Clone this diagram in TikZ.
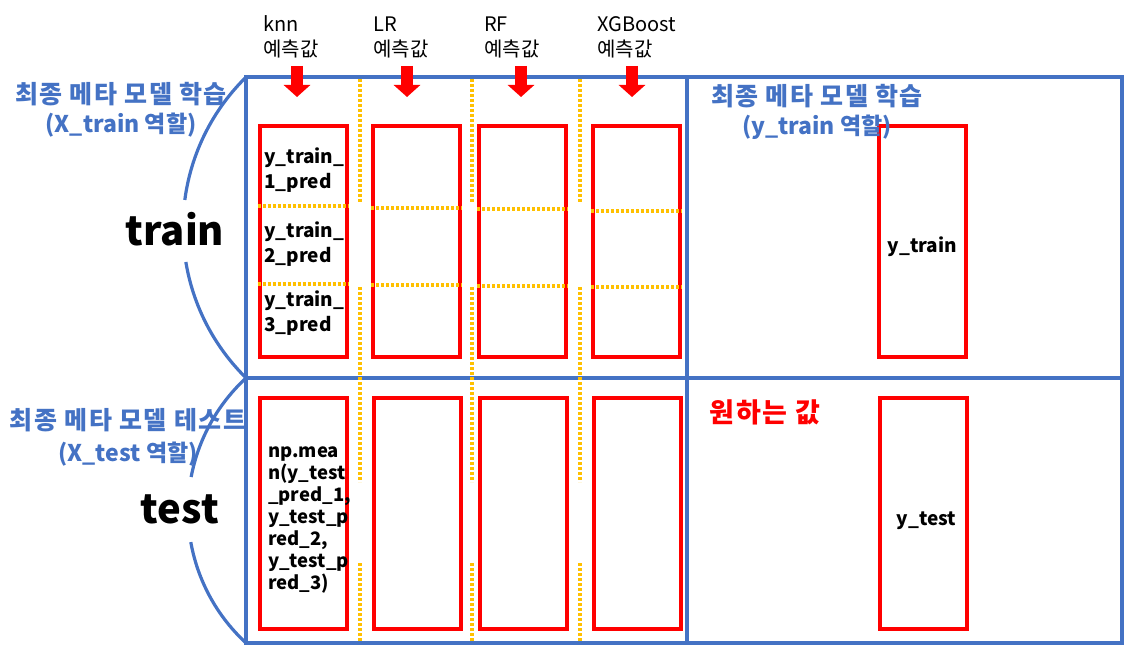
\documentclass[tikz,border=0pt]{standalone}
\usepackage{fontspec}
\setmainfont{Noto Sans CJK KR}
\usetikzlibrary{arrows.meta, positioning}
\definecolor{roleblue}{HTML}{4472C4}
\definecolor{dotorange}{HTML}{FFC000}
\newcommand{\wideko}[2]{{\fontsize{#1}{29}\selectfont\addfontfeature{LetterSpace=6}#2}}

\begin{document}
\begin{tikzpicture}[x=1pt, y=-1pt,
    predbox/.style={draw=red, line width=4pt, minimum width=87pt, minimum height=231pt, inner sep=0pt},
    sepline/.style={dotorange, line width=3.5pt, dash pattern=on 3pt off 2pt},
    downarrow/.style={red, line width=12pt, -{Triangle[width=26pt, length=12pt]}},
    hdr/.style={align=left, anchor=west, inner sep=1pt, font=\fontsize{20}{25}\selectfont},
    role/.style={roleblue, align=center, font=\bfseries\fontsize{23}{29}\selectfont},
    celltext/.style={align=left, anchor=west, inner sep=0pt, font=\bfseries\fontsize{19}{25}\selectfont}]
                \useasboundingbox (0,0) rectangle (1148,663);
                
                % Brackets
                \draw[roleblue, line width=3.2pt] plot[domain=-45.5:-7.5, samples=30] ({394-211*cos(\x)},{227.5+211*sin(\x)});
                \draw[roleblue, line width=3.2pt] plot[domain=9.4:45.5, samples=30] ({394-211*cos(\x)},{227.5+211*sin(\x)});
                \draw[roleblue, line width=3.2pt] plot[domain=-47.3:-10.7, samples=30] ({368.3-180.3*cos(\x)},{510.5+180.3*sin(\x)});
                \draw[roleblue, line width=3.2pt] plot[domain=10.1:47.3, samples=30] ({368.3-180.3*cos(\x)},{510.5+180.3*sin(\x)});
                
                % Frame
                \draw[roleblue, line width=3.2pt] (246,77) rectangle (1122,643);
                \draw[roleblue, line width=3.2pt] (246,378) -- (1122,378);
                \draw[roleblue, line width=3.2pt] (687,77) -- (687,643);
                
                % Column separators
                \draw[sepline] (360,79) -- (360,203);
                \draw[sepline] (360,287) -- (360,482);
                \draw[sepline] (360,563) -- (360,641);
                \draw[sepline] (472,79) -- (472,203);
                \draw[sepline] (472,287) -- (472,482);
                \draw[sepline] (472,563) -- (472,641);
                \draw[sepline] (580,79) -- (580,203);
                \draw[sepline] (580,287) -- (580,482);
                \draw[sepline] (580,563) -- (580,641);
                
                % Train predictions
                \node[predbox] (knntr) at (303,241.5) {};
                \node[predbox] (lrtr) at (416.5,241.5) {};
                \node[predbox] (rftr) at (522.5,241.5) {};
                \node[predbox] (xgbtr) at (636.5,241.5) {};
                \draw[sepline] (knntr.west |- 0,206) -- (knntr.east |- 0,206);
                \draw[sepline] (knntr.west |- 0,284) -- (knntr.east |- 0,284);
                \draw[sepline] (lrtr.west |- 0,208) -- (lrtr.east |- 0,208);
                \draw[sepline] (lrtr.west |- 0,285) -- (lrtr.east |- 0,285);
                \draw[sepline] (rftr.west |- 0,209) -- (rftr.east |- 0,209);
                \draw[sepline] (rftr.west |- 0,286) -- (rftr.east |- 0,286);
                \draw[sepline] (xgbtr.west |- 0,211) -- (xgbtr.east |- 0,211);
                \draw[sepline] (xgbtr.west |- 0,287) -- (xgbtr.east |- 0,287);
                \node[celltext] (fold1) at (264,170.5) {y\_train\_\\1\_pred};
                \node[celltext] (fold2) at (264,244.5) {y\_train\_\\2\_pred};
                \node[celltext] (fold3) at (264,313.5) {y\_train\_\\3\_pred};
                
                % Test predictions
                \node[predbox] (knnte) at (303.5,513.5) {};
                \node[predbox] (lrte) at (417.5,513.5) {};
                \node[predbox] (rfte) at (523.5,513.5) {};
                \node[predbox] (xgbte) at (637.5,513.5) {};
                \node[celltext, font=\bfseries\fontsize{18.5}{22}\selectfont] (meanpred) at (268,520)
                    {np.mea\\n(y\_test\\\_pred\_1,\\y\_test\_p\\red\_2,\\y\_test\_p\\red\_3)};
                
                % Meta model targets
                \node[predbox] (ytrain) at (922.5,241.5) {};
                \node[predbox] (ytest) at (923.5,513.5) {};
                \node[font=\bfseries\fontsize{19}{25}\selectfont] (ytrainlbl) at (922.5,247) {y\_train};
                \node[font=\bfseries\fontsize{19}{25}\selectfont] (ytestlbl) at (926.5,521) {y\_test};
                
                % Model headers
                \node[hdr] (knnhdr) at (262,37) {knn\\예측값};
                \node[hdr] (lrhdr) at (372,37) {LR\\예측값};
                \node[hdr] (rfhdr) at (483,37) {RF\\예측값};
                \node[hdr] (xgbhdr) at (596,37) {XGBoost\\예측값};
                \draw[downarrow] (297,66) -- (297,97);
                \draw[downarrow] (407,66) -- (407,97);
                \draw[downarrow] (521,66) -- (521,97);
                \draw[downarrow] (632,66) -- (632,97);
                
                % Roles
                \node[role] (xtrainrole) at (121,110) {\wideko{25}{최종 메타 모델 학습}\\(X\_train 역할)};
                \node[role, font=\bfseries\fontsize{23}{32}\selectfont] (xtestrole) at (128,437) {\wideko{25}{최종 메타 모델 테스트}\\(X\_test 역할)};
                \node[role] (ytrainrole) at (817,112) {\wideko{25}{최종 메타 모델 학습}\\(y\_train 역할)};
                \node[red, font=\bfseries\fontsize{27}{30}\selectfont] (want) at (765,412) {\addfontfeature{LetterSpace=6}원하는 값};
                \node[font=\bfseries\fontsize{40}{44}\selectfont] (trainlbl) at (175,229) {train};
                \node[font=\bfseries\fontsize{40}{44}\selectfont] (testlbl) at (180,509) {test};
            \end{tikzpicture}
\end{document}
